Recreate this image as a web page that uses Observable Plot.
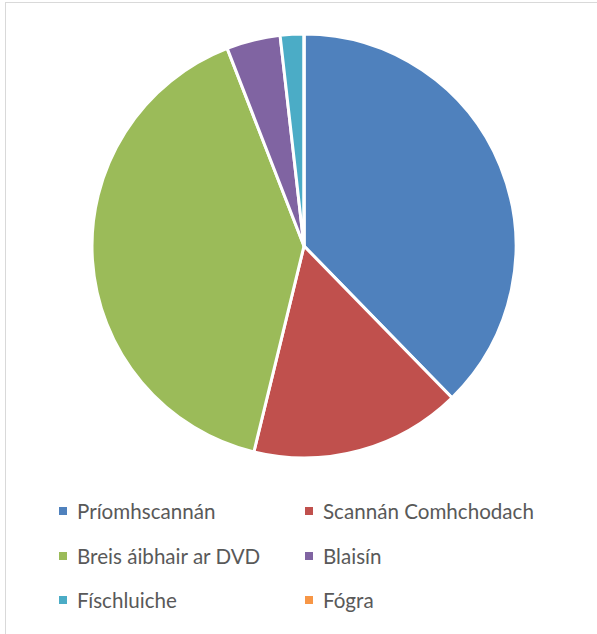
<!DOCTYPE html>
<html>
<head>
<meta charset="utf-8">
<script src="https://cdn.jsdelivr.net/npm/d3@7"></script>
<script src="https://cdn.jsdelivr.net/npm/@observablehq/plot@0.6"></script>
<style>
  html, body { margin: 0; padding: 0; background: #fff; }
  body { width: 597px; height: 634px; position: relative; overflow: hidden; font-family: Lato, "Open Sans", sans-serif; }
  #frame { position: absolute; left: 5px; top: 2px; width: 700px; height: 700px; border: 1.5px solid #d9d9d9; box-sizing: border-box; }
  #chart { position: absolute; left: 0; top: 0; }
  #legend { position: absolute; left: 59px; top: 489px; display: grid; grid-template-columns: 246px 270px; grid-auto-rows: 44.5px; }
  .item { display: flex; align-items: center; font-size: 20.6px; color: #595959; white-space: nowrap; }
  .sw { width: 8px; height: 8px; margin-right: 10px; flex: none; }
</style>
</head>
<body>
<div id="frame"></div>
<div id="chart"></div>
<div id="legend"></div>
<script>
const categories = ["Príomhscannán", "Scannán Comhchodach", "Breis áibhair ar DVD", "Blaisín", "Físchluiche", "Fógra"];
const values = [37.7, 16.1, 40.3, 4.1, 1.8, 0];
const colors = ["#4f81bd", "#c0504d", "#9bbb59", "#8064a2", "#4bacc6", "#f79646"];

const data = categories.map((c, i) => ({category: c, value: values[i]}));

const pieMark = (index, scales, vals, dimensions, context) => {
  const cx = scales.x(0), cy = scales.y(0);
  const r = scales.x(1) - scales.x(0);
  const arcs = d3.pie().sort(null).value(d => d.value)(data);
  const arc = d3.arc().innerRadius(0).outerRadius(r);
  const g = d3.create("svg:g").attr("transform", `translate(${cx},${cy})`);
  g.selectAll("path").data(arcs).join("path")
    .attr("d", arc)
    .attr("fill", d => scales.color(d.data.category))
    .attr("stroke", "#fff")
    .attr("stroke-width", 3)
    .attr("stroke-linejoin", "round");
  return g.node();
};

const plot = Plot.plot({
  width: 597,
  height: 480,
  margin: 0,
  x: {domain: [-1, 1], range: [304 - 212, 304 + 212], axis: null},
  y: {domain: [-1, 1], range: [246 + 212, 246 - 212], axis: null},
  color: {domain: categories, range: colors},
  style: {background: "transparent"},
  marks: [
    Plot.dot(data, {x: () => 0, y: () => 0, r: 0, fill: "category"}),
    pieMark
  ]
});
document.getElementById("chart").appendChild(plot);

const legend = d3.select("#legend");
categories.forEach(c => {
  const it = legend.append("div").attr("class", "item");
  it.append("span").attr("class", "sw").style("background", plot.scale("color").apply(c));
  it.append("span").text(c);
});
</script>
</body>
</html>
